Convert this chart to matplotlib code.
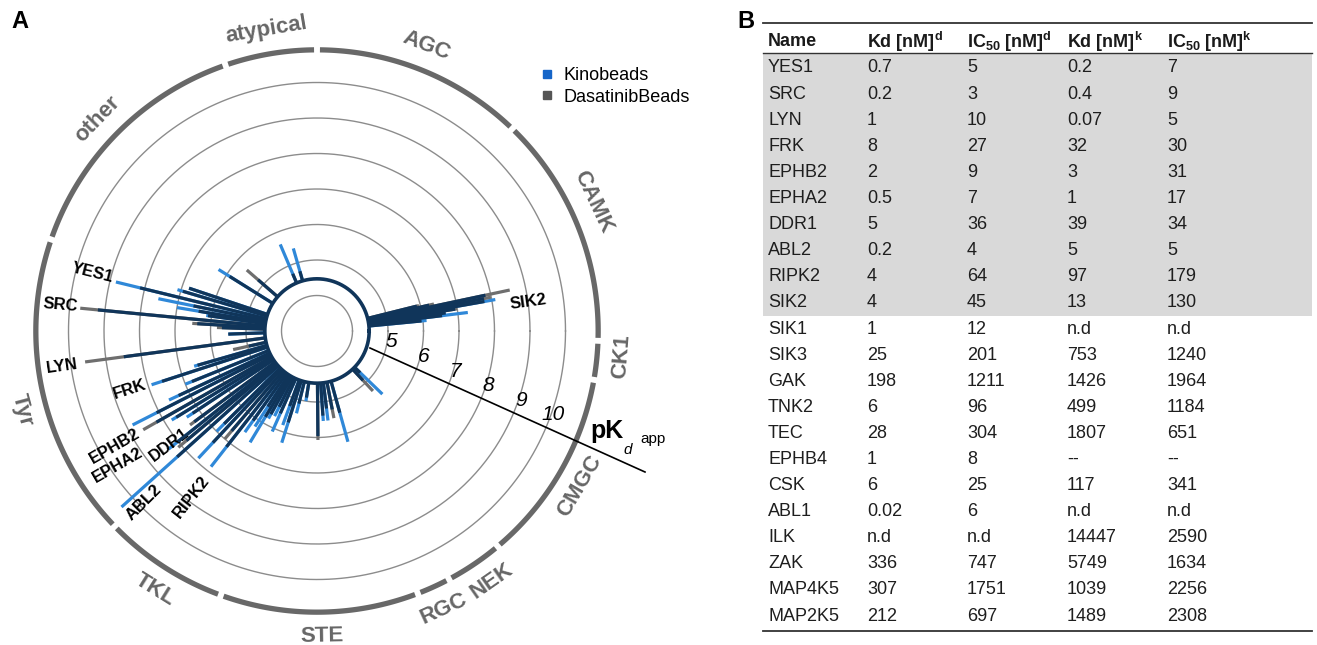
import numpy as np
import matplotlib.pyplot as plt
from matplotlib.lines import Line2D

plt.rcParams['font.family'] = ['Liberation Sans', 'DejaVu Sans']

NAVY = '#10355a'
BLUE = '#2f88d8'
GREY = '#6e6e6e'
RING = '#686868'

# ---- panel A data (pKd app) ----
groups = ['CAMK', 'AGC', 'atypical', 'other', 'Tyr', 'TKL', 'STE', 'RGC', 'NEK', 'CMGC', 'CK1']
group_start = [-2, 46, 90, 109, 161, 224, 250, 291, 298, 310, 350]
group_end = [46, 90, 109, 161, 224, 250, 291, 298, 310, 350, 358]
group_label_angle = [25, 69, 99.5, 136, 195, 238, 271, 294.6, 305, 329.4, 355.3]

bar_angle = [5.5, 7.0, 8.0, 9.0, 10.0, 11.0, 12.0, 13.0, 14.0,
             106, 113, 139, 148,
             161.5, 163.5, 166.3, 168.5, 170.5, 172.0, 174.5, 176.5, 178.0, 182.0,
             187.6, 192.5, 196.0, 198.0, 202.0, 205.0, 207.0, 209.6, 211.5, 213.5,
             216.5, 218.5, 220.0, 222.0,
             225.0, 227.0, 229.5, 232.0, 234.5, 237.0, 239.0, 241.0, 243.5, 246.0,
             250.0, 252.5, 256.0, 261.0, 270.5, 274.0, 277.0, 281.0, 285.6,
             313.0, 316.0]
kino_pk = [6.10, 7.28, 6.66, 6.94, 8.10, 7.79, 7.85, 6.24, 5.90,
           5.42, 5.65, 5.20, 6.27,
           6.80, 7.10, 8.83, 7.56, 7.00, 6.15, 9.20, 6.38, 5.68, 5.50,
           8.49, 4.97, 6.60, 7.90, 7.00, 7.60, 8.83, 8.20, 7.80, 7.40,
           7.30, 8.35, 7.80, 10.41,
           7.00, 7.90, 6.70, 7.85, 6.50, 6.21, 6.66, 5.82, 5.68, 6.10,
           5.82, 6.30, 5.39, 5.00, 5.96, 5.54, 5.54, 5.25, 6.24,
           4.90, 5.56]
dasa_pk = [5.96, 6.55, 6.66, 7.00, 7.79, 7.99, 8.55, 6.38, 5.96,
           4.75, 4.75, 5.62, 5.90,
           6.80, 6.94, 8.13, 6.55, 6.38, 6.10, 9.70, 6.52, 5.82, 5.50,
           9.59, 5.42, 6.50, 7.59, 6.80, 7.30, 8.07, 8.63, 7.65, 7.20,
           7.45, 8.00, 8.10, 8.30,
           6.70, 7.30, 7.00, 7.14, 6.10, 5.54, 5.82, 5.68, 5.39, 5.54,
           5.25, 5.70, 5.11, 4.90, 6.07, 5.39, 5.20, 5.50, 5.39,
           5.31, 4.69]

hit_names = ['YES1', 'SRC', 'LYN', 'FRK', 'EPHB2', 'EPHA2', 'DDR1', 'ABL2', 'RIPK2', 'SIK2']
hit_label_pos = [(165.5, 9.54, -14), (174.2, 10.27, -5), (188, 10.25, 8), (197.5, 8.52, 18),
                 (209.7, 9.55, 30), (213.9, 9.76, 30), (217.6, 8.26, 37), (224.7, 9.85, 45),
                 (232.8, 8.87, 52), (7.8, 9.0, 8)]
axis_ticks = [5, 6, 7, 8, 9, 10]

# ---- panel B data ----
col_names = ['Name', 'Kd [nM]$^\\mathregular{d}$', 'IC$_\\mathregular{50}$ [nM]$^\\mathregular{d}$',
             'Kd [nM]$^\\mathregular{k}$', 'IC$_\\mathregular{50}$ [nM]$^\\mathregular{k}$']
names = ['YES1', 'SRC', 'LYN', 'FRK', 'EPHB2', 'EPHA2', 'DDR1', 'ABL2', 'RIPK2', 'SIK2',
         'SIK1', 'SIK3', 'GAK', 'TNK2', 'TEC', 'EPHB4', 'CSK', 'ABL1', 'ILK', 'ZAK', 'MAP4K5', 'MAP2K5']
kd_d = ['0.7', '0.2', '1', '8', '2', '0.5', '5', '0.2', '4', '4',
        '1', '25', '198', '6', '28', '1', '6', '0.02', 'n.d', '336', '307', '212']
ic50_d = ['5', '3', '10', '27', '9', '7', '36', '4', '64', '45',
          '12', '201', '1211', '96', '304', '8', '25', '6', 'n.d', '747', '1751', '697']
kd_k = ['0.2', '0.4', '0.07', '32', '3', '1', '39', '5', '97', '13',
        'n.d', '753', '1426', '499', '1807', '--', '117', 'n.d', '14447', '5749', '1039', '1489']
ic50_k = ['7', '9', '5', '30', '31', '17', '34', '5', '179', '130',
          'n.d', '1240', '1964', '1184', '651', '--', '341', 'n.d', '2590', '1634', '2256', '2308']

W, H = 1317, 645
fig = plt.figure(figsize=(W / 100, H / 100), dpi=100)

# polar axes: centre (317, 331) px, 35.5 px per pK unit, r=3 at the centre
cx, cy, unit = 317, 331, 35.5
rmax = 11
rad = (rmax - 3) * unit
ax = fig.add_axes([(cx - rad) / W, (H - cy - rad) / H, 2 * rad / W, 2 * rad / H], projection='polar')
ax.set_ylim(3, rmax)
ax.set_axis_off()

full = np.linspace(0, 2 * np.pi, 500)
for v in range(4, 11):
    ax.plot(full, np.full_like(full, v), color='#8c8c8c', lw=1.0, zorder=1)

BASE = 4.47
th = np.radians(bar_angle)
kino = np.array(kino_pk)
dasa = np.array(dasa_pk)
tip_col = np.where(kino >= dasa, BLUE, GREY)
ax.vlines(th, BASE, np.maximum(kino, dasa), colors=tip_col, lw=2.3, zorder=3)
ax.vlines(th, BASE, np.minimum(kino, dasa), colors=NAVY, lw=2.3, zorder=4)
ax.plot(full, np.full_like(full, BASE), color=NAVY, lw=2.6, zorder=5)

# kinase group ring
for g, s, e, la in zip(groups, group_start, group_end, group_label_angle):
    arc = np.radians(np.linspace(s + 0.6, e - 0.6, 120))
    ax.plot(arc, np.full_like(arc, 10.92), color=RING, lw=3.8, solid_capstyle='butt', clip_on=False)
    rot = la - 90 if la <= 180 else la - 270
    ax.text(np.radians(la), 11.6, g, color='#666666', fontsize=16, fontweight='bold',
            rotation=rot, ha='center', va='center', rotation_mode='anchor')

for nm, (a, r, rot) in zip(hit_names, hit_label_pos):
    ax.text(np.radians(a), r, nm, fontsize=12, fontweight='bold', color='black',
            rotation=rot, ha='center', va='center', rotation_mode='anchor')

# pKd axis (straight line, not radial)
p0 = np.array([53, -17]) / unit
p1 = np.array([328, -141]) / unit
d = (p1 - p0) / np.linalg.norm(p1 - p0)
ax.plot([np.arctan2(p0[1], p0[0]), np.arctan2(p1[1], p1[0])],
        [3 + np.hypot(*p0), 3 + np.hypot(*p1)], color='black', lw=1.2, clip_on=False, zorder=6)
for v in axis_ticks:
    b = np.dot(p0, d)
    c = np.dot(p0, p0) - (v - 3) ** 2
    t = -b + np.sqrt(b * b - c)
    p = p0 + t * d
    ax.annotate(str(v), (np.arctan2(p[1], p[0]), 3 + np.hypot(*p)), xytext=(5, 9),
                textcoords='offset points', fontsize=15, fontstyle='italic',
                ha='center', va='center', annotation_clip=False)

# overlay in pixel coordinates
ov = fig.add_axes([0, 0, 1, 1])
ov.set_xlim(0, W)
ov.set_ylim(H, 0)
ov.set_axis_off()
ov.patch.set_visible(False)

ov.text(20, 22, 'A', fontsize=17, fontweight='bold', ha='center', va='center')
ov.text(746, 22, 'B', fontsize=17, fontweight='bold', ha='center', va='center')
ov.text(607, 431, 'pK', fontsize=18, fontweight='bold', ha='center', va='center')
ov.text(628, 450, 'd', fontsize=11, fontstyle='italic', ha='center', va='center')
ov.text(653, 439, 'app', fontsize=11, ha='center', va='center')

handles = [Line2D([], [], marker='s', ls='none', color='#1565c8', markersize=6),
           Line2D([], [], marker='s', ls='none', color='#555555', markersize=6)]
ov.legend(handles, ['Kinobeads', 'DasatinibBeads'], loc='upper left', bbox_to_anchor=(533, 60),
          bbox_transform=ov.transData, frameon=False, fontsize=13, handlelength=0.8,
          handletextpad=0.5, labelspacing=0.25, borderaxespad=0)

# table
x0, x1 = 763, 1312
col_x = [768, 867, 967, 1067, 1167]
row_y = [68 + 26.1 * i for i in range(len(names))]
ov.fill_between([x0, x1], 53, 316, color='#d9d9d9', lw=0, zorder=0)
ov.plot([x0, x1], [23, 23], color='#333333', lw=1.3)
ov.plot([x0, x1], [53, 53], color='#333333', lw=1.0)
ov.plot([x0, x1], [631, 631], color='#333333', lw=1.3)
for x, c in zip(col_x, col_names):
    ov.text(x, 42, c, fontsize=13, fontweight='bold', color='#1a1a1a', ha='left', va='center')
for i, y in enumerate(row_y):
    for x, col in zip(col_x, [names, kd_d, ic50_d, kd_k, ic50_k]):
        ov.text(x, y, col[i], fontsize=13, color='#1e1e1e', ha='left', va='center')

fig.savefig('out.png', dpi=100)
